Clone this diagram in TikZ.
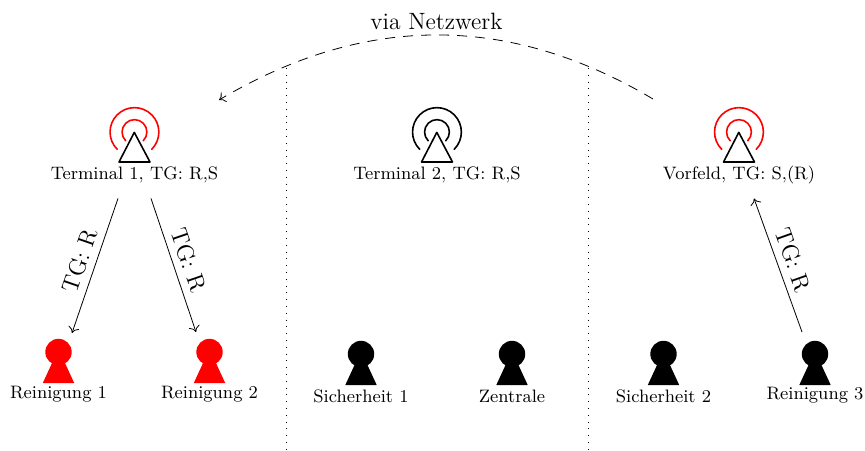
\documentclass[tikz,border=0pt]{standalone}
\usetikzlibrary{calc,arrows.meta}
\definecolor{sigred}{RGB}{255,0,0}
\newcommand{\antenna}[3]{%
  \draw[antarc,#2] ($(#1)+(-17.3,17.3)$) arc[start angle=225,end angle=-45,radius=12.2pt];
  \draw[antarc,#2] ($(#1)+(-8.8,8.8)$) arc[start angle=225,end angle=-45,radius=6.2pt];
  \draw[antarc] (#1) -- ++(-15.5,30) -- ++(31,0) -- cycle;
}
\newcommand{\person}[3]{%
  \fill[#2] ($(#1)+(0,-3)$) -- ++(-15.7,34) -- ++(31.4,0) -- cycle;
  \fill[#2] (#1) circle[radius=6.6pt];
}
\tikzset{
  x=0.5pt,y=-0.5pt,
  tip/.style={-{Computer Modern Rightarrow[length=3pt,width=5.6pt]}},
  antarc/.style={line width=0.8pt,line cap=round,line join=round},
  smalltext/.style={font=\fontsize{9}{11}\selectfont,inner sep=0pt,anchor=base},
  bigtext/.style={font=\fontsize{11.8}{13}\selectfont,inner sep=0pt},
  conn/.style={tip,line width=0.4pt},
  zone/.style={line width=0.3pt,dash pattern=on 0.3pt off 3.1pt},
  holder/.style={inner sep=0pt,minimum size=0pt}
}
\begin{document}
\begin{tikzpicture}
\useasboundingbox (0,0) rectangle (865,450);
\coordinate (divaTop) at (286,68); \coordinate (divaBot) at (286,452);
\coordinate (divbTop) at (588,68); \coordinate (divbBot) at (588,452);
\draw[zone] (divaTop) -- (divaBot);
\draw[zone] (divbTop) -- (divbBot);

\node[holder] (ant1) at (134.5,132) {};
\node[holder] (ant2) at (437,132) {};
\node[holder] (ant3) at (739,132) {};
\antenna{ant1}{sigred}{}
\antenna{ant2}{black}{}
\antenna{ant3}{sigred}{}
\node[smalltext] (t1) at (134.5,179) {Terminal 1, TG: R,S};
\node[smalltext] (t2) at (437,179) {Terminal 2, TG: R,S};
\node[smalltext] (t3) at (739,179) {Vorfeld, TG: S,(R)};

\node[holder] (p1) at (58.5,352) {};
\node[holder] (p2) at (209.5,352) {};
\node[holder] (p3) at (361,354) {};
\node[holder] (p4) at (512,354) {};
\node[holder] (p5) at (663.5,354) {};
\node[holder] (p6) at (815,354) {};
\person{p1}{sigred}{}
\person{p2}{sigred}{}
\person{p3}{black}{}
\person{p4}{black}{}
\person{p5}{black}{}
\person{p6}{black}{}
\node[smalltext] (l1) at (58.5,398.5) {Reinigung 1};
\node[smalltext] (l2) at (209.5,398.5) {Reinigung 2};
\node[smalltext] (l3) at (361,402) {Sicherheit 1};
\node[smalltext] (l4) at (512,402) {Zentrale};
\node[smalltext] (l5) at (663.5,402) {Sicherheit 2};
\node[smalltext] (l6) at (815,399) {Reinigung 3};

\draw[conn] ($(t1)+(-16.5,24)$) -- node[bigtext,rotate=71,pos=0.5,yshift=8pt]{TG: R} ($(p1)+(13.5,-19)$);
\draw[conn] ($(t1)+(16.5,24)$) -- node[bigtext,rotate=-71,pos=0.5,yshift=8pt]{TG: R} ($(p2)+(-13.5,-20)$);
\draw[conn] ($(p6)+(-13,-22)$) -- node[bigtext,rotate=-70.5,pos=0.5,yshift=8pt]{TG: R} ($(t3)+(15,24)$);

\coordinate (arcA) at ($(ant3)+(-86,-33)$);
\coordinate (arcB) at ($(ant1)+(84.5,-32)$);
\draw[line width=0.4pt,tip,dash pattern=on 5pt off 4pt] (arcA) .. controls ($(arcA)+(-145,-86)$) and ($(arcB)+(145,-86)$) .. (arcB);
\node[bigtext] (net) at (436.5,21) {via Netzwerk};
\end{tikzpicture}
\end{document}
